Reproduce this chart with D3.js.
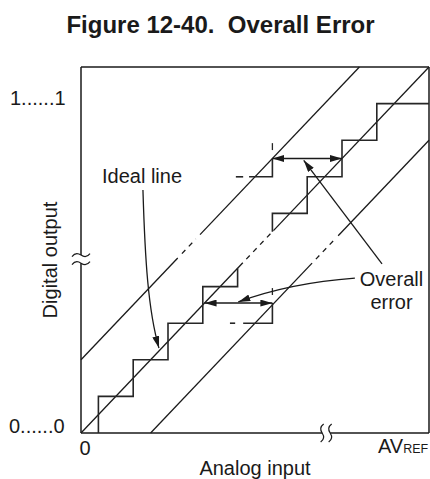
<!DOCTYPE html>
<html><head><meta charset="utf-8">
<script src="https://cdn.jsdelivr.net/npm/d3@7"></script>
<style>
html,body{margin:0;padding:0;background:#fff;}
svg{display:block;}
text{font-family:"Liberation Sans",Arial,Helvetica,sans-serif;fill:#1a1a1a;}
</style></head>
<body>
<svg id="c" width="430" height="479"></svg>
<script>
// ---- data (chart units: x = analog input 0..1, y = digital output 0..1) ----
const title = "Figure 12-40.  Overall Error";
const yTickLabels = ["0......0", "1......1"];
const xTickLabels = ["0", "AV", "REF"];
const xAxisTitle = "Analog input";
const yAxisTitle = "Digital output";

// three diagonal lines y = x + offset : upper limit, ideal, lower limit
const lineOffsets = [0.2, 0, -0.2];
const lineSolidSpans = [[[0, 0.278], [0.342, 0.8]], [[0, 0.465], [0.553, 1]], [[0.2, 0.664], [0.739, 1]]];
const lineDashSpans = [[0.29, 0.33], [0.475, 0.545], [0.675, 0.73]];

// staircases (conversion characteristic)
const lowerStairX = [0.05, 0.05, 0.15, 0.15, 0.25, 0.25, 0.35, 0.35, 0.45, 0.45];
const lowerStairY = [0, 0.1, 0.1, 0.2, 0.2, 0.3, 0.3, 0.4, 0.4, 0.45];
const upperStairX = [0.55, 0.55, 0.65, 0.65, 0.75, 0.75, 0.85, 0.85, 1.0];
const upperStairY = [0.55, 0.6, 0.6, 0.7, 0.7, 0.8, 0.8, 0.9, 0.9];

// error-indicating partial steps: [stepLevel, dashX0, dashX1, solidX0, stepX, arrowY, tickY0, tickY1]
const errStepLevels = [0.7, 0.3];
const errStepDash = [[0.445, 0.466], [0.428, 0.443]];
const errStepSolidStart = [0.483, 0.466];
const errStepX = [0.55, 0.55];
const errArrowY = [0.75, 0.355];
const errArrowX = [[0.55, 0.75], [0.355, 0.55]];
const errTicks = [[0.773, 0.792], [0.377, 0.396]];

// annotation leader lines
const idealLeader = [[0.178, 0.664], [0.184, 0.473], [0.193, 0.336], [0.224, 0.232]];
const upperErrLeader = [[0.865, 0.462], [0.64, 0.745]];
const lowerErrLeader = [[0.787, 0.423], [0.601, 0.41], [0.452, 0.358]];

// axis breaks
const yBreaks = [0.464, 0.486];
const xBreaks = [0.693, 0.716];

// ---- drawing ----
const svg = d3.select("#c");
const x = d3.scaleLinear().domain([0, 1]).range([81, 429]);
const y = d3.scaleLinear().domain([0, 1]).range([433, 67]);
const ink = "#1a1a1a";

const defs = svg.append("defs");
defs.append("marker").attr("id", "ah").attr("viewBox", "0 0 12 7")
  .attr("refX", 12).attr("refY", 3.5).attr("markerWidth", 12).attr("markerHeight", 7)
  .attr("markerUnits", "userSpaceOnUse").attr("orient", "auto-start-reverse")
  .append("path").attr("d", "M0,0L12,3.5L0,7Z").attr("fill", ink);

// title
svg.append("text").attr("x", 220.5).attr("y", 33).attr("text-anchor", "middle")
  .attr("font-size", 24).attr("font-weight", "bold").style("white-space", "pre").text(title);

// frame (with axis breaks)
const g = svg.append("g").attr("fill", "none").attr("stroke", ink);
g.append("line").attr("x1", x(0)).attr("x2", x(1)).attr("y1", y(1)).attr("y2", y(1)).attr("stroke-width", 1.5);
g.append("line").attr("x1", x(1)).attr("x2", x(1)).attr("y1", y(1)).attr("y2", y(0)).attr("stroke-width", 1.5);
g.append("line").attr("x1", x(0)).attr("x2", x(0)).attr("y1", y(1)).attr("y2", y(yBreaks[1])).attr("stroke-width", 1.5);
g.append("line").attr("x1", x(0)).attr("x2", x(0)).attr("y1", y(yBreaks[0])).attr("y2", y(0)).attr("stroke-width", 1.5);
g.append("line").attr("x1", x(0)).attr("x2", x(xBreaks[0])).attr("y1", y(0)).attr("y2", y(0)).attr("stroke-width", 1.5);
g.append("line").attr("x1", x(xBreaks[1])).attr("x2", x(1)).attr("y1", y(0)).attr("y2", y(0)).attr("stroke-width", 1.5);

yBreaks.forEach(v => {
  const cx = x(0), cy = y(v);
  g.append("path").attr("stroke-width", 1.2)
    .attr("d", `M${cx-9},${cy+1.5} C${cx-6},${cy-2.5} ${cx-3},${cy-2} ${cx},${cy} S${cx+6},${cy+2.5} ${cx+9},${cy-1.5}`);
});
xBreaks.forEach(v => {
  const cx = x(v), cy = y(0);
  g.append("path").attr("stroke-width", 1.2)
    .attr("d", `M${cx+1.5},${cy-9} C${cx-2.5},${cy-6} ${cx-2},${cy-3} ${cx},${cy} S${cx+2.5},${cy+6} ${cx-1.5},${cy+9}`);
});

// diagonal lines
const diag = svg.append("g").attr("stroke", ink).attr("stroke-width", 1.3).attr("fill", "none");
lineOffsets.forEach((off, i) => {
  lineSolidSpans[i].forEach(([a, b]) => {
    diag.append("line").attr("x1", x(a)).attr("y1", y(a + off)).attr("x2", x(b)).attr("y2", y(b + off));
  });
  const [a, b] = lineDashSpans[i];
  diag.append("line").attr("x1", x(a)).attr("y1", y(a + off)).attr("x2", x(b)).attr("y2", y(b + off))
    .attr("stroke-dasharray", "5,5");
});

// staircases
const stairLine = d3.line().x(d => x(d[0])).y(d => y(d[1]));
const st = svg.append("g").attr("stroke", "#262626").attr("stroke-width", 1.6).attr("fill", "none");
st.append("path").attr("d", stairLine(lowerStairX.map((v, i) => [v, lowerStairY[i]])));
st.append("path").attr("d", stairLine(upperStairX.map((v, i) => [v, upperStairY[i]])));

// error steps, ticks and double arrows
errStepLevels.forEach((lv, i) => {
  st.append("line").attr("x1", x(errStepDash[i][0])).attr("x2", x(errStepDash[i][1])).attr("y1", y(lv)).attr("y2", y(lv));
  st.append("path").attr("d", stairLine([[errStepSolidStart[i], lv], [errStepX[i], lv], [errStepX[i], errArrowY[i]]]));
  st.append("line").attr("x1", x(errStepX[i])).attr("x2", x(errStepX[i])).attr("y1", y(errTicks[i][0])).attr("y2", y(errTicks[i][1])).attr("stroke-width", 1.3);
  svg.append("line").attr("stroke", ink).attr("stroke-width", 1.5)
    .attr("x1", x(errArrowX[i][0])).attr("x2", x(errArrowX[i][1])).attr("y1", y(errArrowY[i])).attr("y2", y(errArrowY[i]))
    .attr("marker-start", "url(#ah)").attr("marker-end", "url(#ah)");
});

// leaders
const P = d => [x(d[0]), y(d[1])];
const lead = svg.append("g").attr("stroke", ink).attr("stroke-width", 1.3).attr("fill", "none");
{
  const p = idealLeader.map(P);
  lead.append("path").attr("d", `M${p[0]}C${p[1]} ${p[2]} ${p[3]}`).attr("marker-end", "url(#ah)");
  const q = upperErrLeader.map(P);
  lead.append("path").attr("d", `M${q[0]}L${q[1]}`).attr("marker-end", "url(#ah)");
  const r = lowerErrLeader.map(P);
  lead.append("path").attr("d", `M${r[0]}Q${r[1]} ${r[2]}`).attr("marker-end", "url(#ah)");
}

// labels
svg.append("text").attr("x", 102).attr("y", 183).attr("font-size", 20).text("Ideal line");
svg.append("text").attr("x", 391.5).attr("y", 286).attr("text-anchor", "middle").attr("font-size", 20).text("Overall");
svg.append("text").attr("x", 391.5).attr("y", 309).attr("text-anchor", "middle").attr("font-size", 20).text("error");

svg.append("text").attr("x", 9).attr("y", y(0)).attr("font-size", 20).text(yTickLabels[0]);
svg.append("text").attr("x", 10).attr("y", 105).attr("font-size", 20).text(yTickLabels[1]);
svg.append("text").attr("x", x(0) + 4).attr("y", 455).attr("text-anchor", "middle").attr("font-size", 20).text(xTickLabels[0]);
const av = svg.append("text").attr("x", 378).attr("y", 453).attr("font-size", 20);
av.append("tspan").text(xTickLabels[1]);
av.append("tspan").attr("font-size", 12.5).text(xTickLabels[2]);

svg.append("text").attr("x", 255).attr("y", 475).attr("text-anchor", "middle").attr("font-size", 20).text(xAxisTitle);
svg.append("text").attr("transform", "translate(57,260) rotate(-90)").attr("text-anchor", "middle")
  .attr("font-size", 20).text(yAxisTitle);
</script>
</body></html>
